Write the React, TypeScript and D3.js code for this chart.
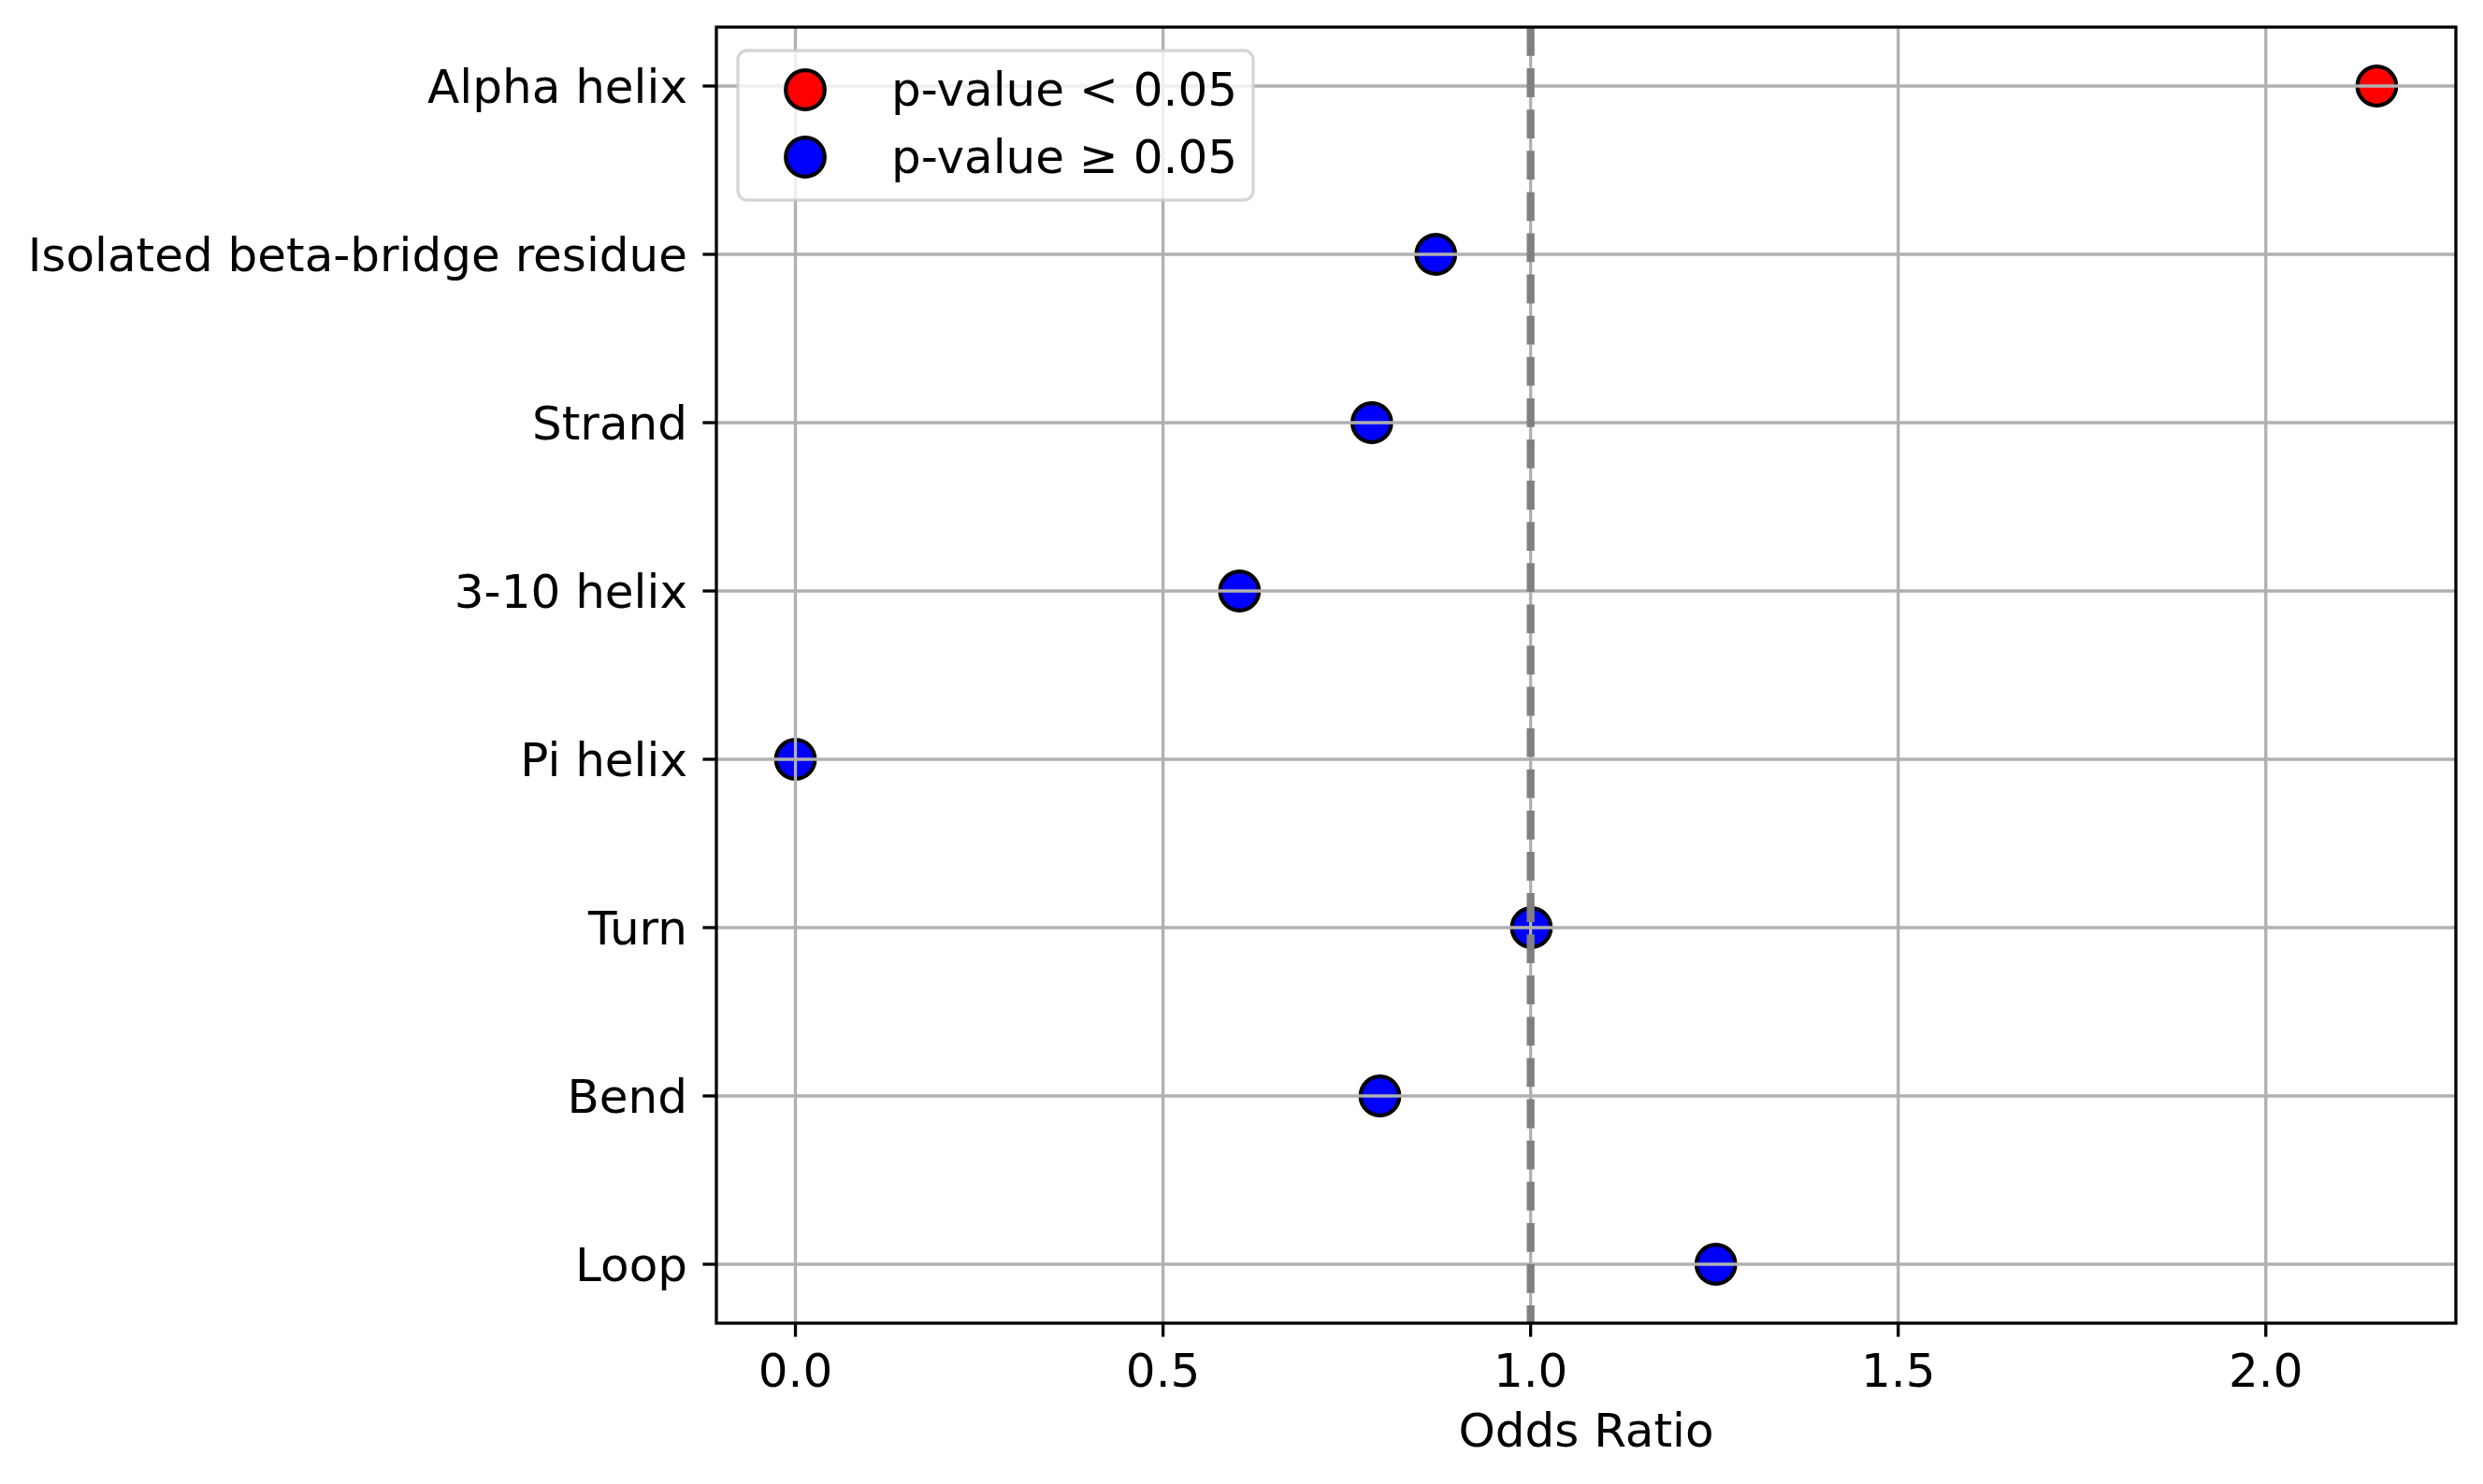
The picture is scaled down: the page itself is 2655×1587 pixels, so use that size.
import React from 'react';
import * as d3 from 'd3';

// ── Data ─────────────────────────────────────────────
const categories = [
  'Alpha helix',
  'Isolated beta-bridge residue',
  'Strand',
  '3-10 helix',
  'Pi helix',
  'Turn',
  'Bend',
  'Loop',
];
const oddsRatios = [2.151, 0.871, 0.784, 0.604, 0.0, 1.001, 0.795, 1.252];
const significant = [true, false, false, false, false, false, false, false];
const xTicks = [0.0, 0.5, 1.0, 1.5, 2.0];
const legendLabels = ['p-value < 0.05', 'p-value \u2265 0.05'];
const legendColors = ['#ff0000', '#0000ff'];

const W = 2655;
const H = 1587;
const M = { left: 766, right: 2626, top: 29, bottom: 1415 };
const FONT = 'DejaVu Sans, sans-serif';
const FS = 50;

export default function App() {
  const xMin = d3.min(oddsRatios) ?? 0;
  const xMax = d3.max(oddsRatios) ?? 1;
  const pad = (xMax - xMin) * 0.05;
  const x = d3.scaleLinear().domain([xMin - pad, xMax + pad]).range([M.left, M.right]);
  const n = categories.length;
  const y = d3.scaleLinear().domain([-0.35, n - 1 + 0.35]).range([M.top, M.bottom]);

  const r = 20.8;

  return (
    <svg width={W} height={H} style={{ position: 'absolute', left: 0, top: 0, background: '#fff' }}>
      {/* points (below grid, like matplotlib collections) */}
      {categories.map((c, i) => (
        <circle key={c} cx={x(oddsRatios[i])} cy={y(i)} r={r}
          fill={significant[i] ? legendColors[0] : legendColors[1]}
          stroke="#000" strokeWidth={4.2} />
      ))}

      {/* grid */}
      {xTicks.map(t => (
        <line key={'gx' + t} x1={x(t)} x2={x(t)} y1={M.top} y2={M.bottom} stroke="#b0b0b0" strokeWidth={3.3} />
      ))}
      {categories.map((c, i) => (
        <line key={'gy' + c} x1={M.left} x2={M.right} y1={y(i)} y2={y(i)} stroke="#b0b0b0" strokeWidth={3.3} />
      ))}

      {/* reference line at OR = 1 */}
      <line x1={x(1)} x2={x(1)} y1={M.top} y2={M.bottom} stroke="#808080" strokeWidth={8.3}
        strokeDasharray="30.8,13.3" />

      {/* spines */}
      <rect x={M.left} y={M.top} width={M.right - M.left} height={M.bottom - M.top}
        fill="none" stroke="#000" strokeWidth={3.3} />

      {/* x axis */}
      {xTicks.map(t => (
        <g key={'xt' + t}>
          <line x1={x(t)} x2={x(t)} y1={M.bottom} y2={M.bottom + 14.6} stroke="#000" strokeWidth={3.3} />
          <text x={x(t)} y={1483} textAnchor="middle" fontFamily={FONT} fontSize={FS} fill="#000">
            {t.toFixed(1)}
          </text>
        </g>
      ))}
      <text x={(M.left + M.right) / 2} y={1547} textAnchor="middle" fontFamily={FONT} fontSize={FS} fill="#000">
        Odds Ratio
      </text>

      {/* y axis */}
      {categories.map((c, i) => (
        <g key={'yt' + c}>
          <line x1={M.left - 14.6} x2={M.left} y1={y(i)} y2={y(i)} stroke="#000" strokeWidth={3.3} />
          <text x={M.left - 31} y={y(i)} dy="0.36em" textAnchor="end" fontFamily={FONT} fontSize={FS} fill="#000">
            {c}
          </text>
        </g>
      ))}

      {/* legend */}
      <g>
        <rect x={789} y={54} width={551} height={160} rx={10} fill="#fff" fillOpacity={0.8}
          stroke="#cccccc" strokeOpacity={0.8} strokeWidth={3.3} />
        {legendLabels.map((l, i) => (
          <g key={l}>
            <circle cx={861} cy={96 + i * 72} r={r} fill={legendColors[i]} stroke="#000" strokeWidth={4.2} />
            <text x={953} y={113 + i * 72} fontFamily={FONT} fontSize={FS} fill="#000">{l}</text>
          </g>
        ))}
      </g>
    </svg>
  );
}
